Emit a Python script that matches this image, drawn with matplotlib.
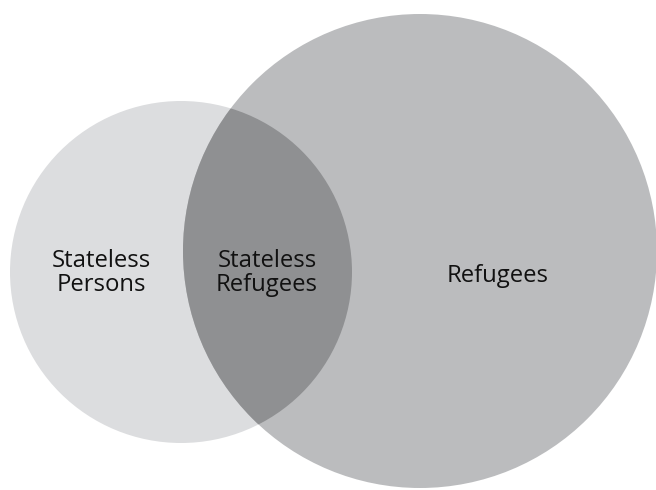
import matplotlib
matplotlib.use("Agg")
import matplotlib.pyplot as plt
from matplotlib.patches import Circle

# Data: set labels
set_labels = ["Stateless\nPersons", "Refugees"]
overlap_label = "Stateless\nRefugees"

# Layout (pixels)
W, H = 656, 490
left_circle = dict(cx=181, cy=272, r=171)
right_circle = dict(cx=420, cy=251, r=237)
colors = dict(left="#dcdddf", right="#bbbcbe", both="#8f9092")

fig = plt.figure(figsize=(W / 100, H / 100), dpi=100)
ax = fig.add_axes([0, 0, 1, 1])
ax.set_xlim(0, W)
ax.set_ylim(H, 0)
ax.set_aspect("equal")
ax.axis("off")

cl = Circle((left_circle["cx"], left_circle["cy"]), left_circle["r"],
            facecolor=colors["left"], edgecolor="none")
cr = Circle((right_circle["cx"], right_circle["cy"]), right_circle["r"],
            facecolor=colors["right"], edgecolor="none")
ax.add_patch(cl)
ax.add_patch(cr)
clip = Circle((right_circle["cx"], right_circle["cy"]), right_circle["r"],
              transform=ax.transData, facecolor="none", edgecolor="none")
ax.add_patch(clip)
co = Circle((left_circle["cx"], left_circle["cy"]), left_circle["r"],
            facecolor=colors["both"], edgecolor="none")
ax.add_patch(co)
co.set_clip_path(clip)

font = dict(family=["Open Sans", "DejaVu Sans"], fontsize=17.2, color="#111111",
            ha="center", va="center", linespacing=0.98)
ax.text(101, 273, set_labels[0], **font)
ax.text(267, 273, overlap_label, **font)
ax.text(498, 276, set_labels[1], **font)

fig.savefig("out.png", dpi=100)
